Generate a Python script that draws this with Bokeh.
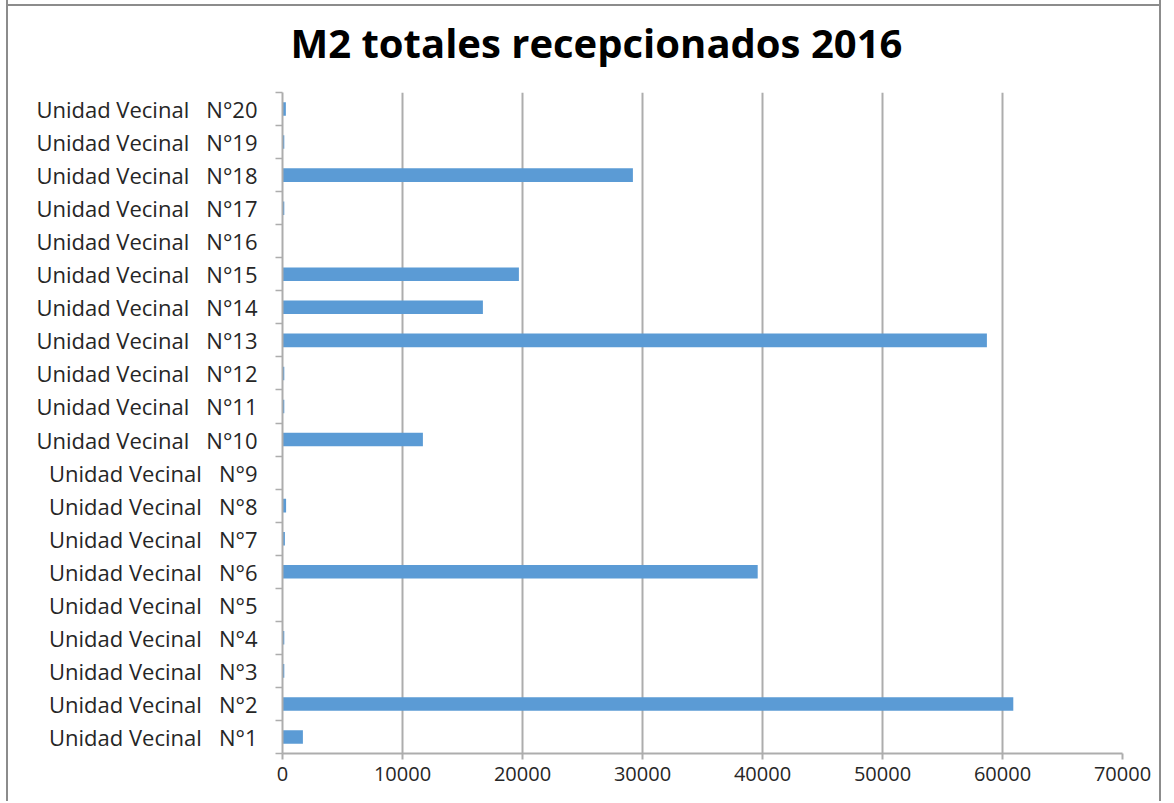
from bokeh.plotting import figure
from bokeh.models import (Range1d, LinearAxis, FixedTicker,
                          BasicTickFormatter, Title, ColumnDataSource)
from bokeh.embed import file_html
from bokeh.resources import INLINE

# ---- data ----
categories = ["Unidad Vecinal\u00a0\u00a0\u00a0N°%d" % i for i in range(1, 21)]
values = [1700, 60900, 150, 150, 0, 39600, 200, 300, 0, 11700,
          150, 150, 58700, 16700, 19700, 0, 150, 29200, 150, 280]
x_ticks = [0, 10000, 20000, 30000, 40000, 50000, 60000, 70000]
title_text = "M2 totales recepcionados 2016"

FONT = "Open Sans"
GRID = "#ADADAD"
TXT = "#262626"
BAR = "#5B9BD5"
FRAME = "#8C8C8C"

n = len(categories)
pos = [i + 0.5 for i in range(n)]  # category centres (bottom -> top)
src = ColumnDataSource(dict(y=pos, val=values, cat=categories))

p = figure(width=1155, height=812, y_range=Range1d(0, n),
           x_range=Range1d(0, 70000), output_backend="svg", toolbar_location=None,
           y_axis_location=None, x_axis_location="below",
           min_border_left=274, min_border_top=103, min_border_right=41, min_border_bottom=48)
p.styles = {
    "border-left": "2px solid " + FRAME,
    "border-right": "2px solid " + FRAME,
    "margin-left": "6px",
    "margin-top": "-11px",
    "background": "linear-gradient(%s, %s) no-repeat 0 15px / 100%% 2px, white" % (FRAME, FRAME),
}
p.outline_line_color = None
p.background_fill_color = "white"
p.border_fill_alpha = 0

p.hbar(y="y", right="val", left=0, height=0.41, source=src,
       fill_color=BAR, line_color=None)

# title
t = Title(text=title_text, align="left", offset=8, standoff=46,
          text_font=FONT, text_font_size="40px", text_font_style="bold", text_color="black")
p.add_layout(t, "above")

# x axis
xa = p.xaxis[0]
xa.ticker = FixedTicker(ticks=x_ticks)
xa.formatter = BasicTickFormatter(use_scientific=False)
xa.axis_line_color = GRID
xa.axis_line_width = 2
xa.major_tick_line_color = GRID
xa.major_tick_line_width = 2
xa.major_tick_out = 6
xa.major_tick_in = 0
xa.minor_tick_line_color = None
xa.major_label_text_font = FONT
xa.major_label_text_font_size = "20px"
xa.major_label_text_color = TXT
xa.major_label_standoff = 7

p.xgrid.ticker = FixedTicker(ticks=x_ticks)
p.xgrid.grid_line_color = GRID
p.xgrid.grid_line_width = 2
p.ygrid.grid_line_color = None

# y tick-only axis (ticks between categories)
ta = LinearAxis(ticker=FixedTicker(ticks=list(range(n + 1))),
                major_label_overrides={i: "" for i in range(n + 1)})
ta.axis_line_color = GRID
ta.axis_line_width = 2
ta.major_tick_line_color = GRID
ta.major_tick_line_width = 1.5
ta.major_tick_out = 7
ta.major_tick_in = 0
ta.minor_tick_line_color = None
ta.major_label_standoff = 0
p.add_layout(ta, "left")

# y label axis (labels at category centres)
ca = LinearAxis(ticker=FixedTicker(ticks=pos),
                major_label_overrides={y: c for y, c in zip(pos, categories)})
ca.axis_line_color = None
ca.major_tick_line_color = None
ca.minor_tick_line_color = None
ca.major_label_text_font = FONT
ca.major_label_text_font_size = "22px"
ca.major_label_text_color = TXT
ca.major_label_standoff = 12
p.add_layout(ca, "left")

open("out.html", "w").write(file_html(p, INLINE))
